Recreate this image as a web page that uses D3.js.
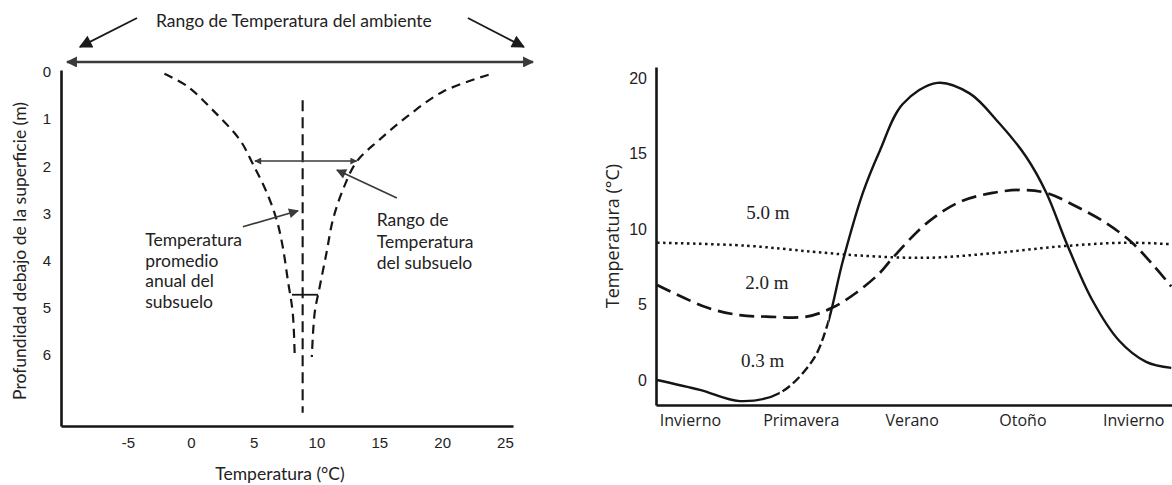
<!DOCTYPE html>
<html>
<head>
<meta charset="utf-8">
<script src="https://cdn.jsdelivr.net/npm/d3@7"></script>
<style>
  body { margin: 0; background: #fff; }
  svg { display: block; }
</style>
</head>
<body>
<svg id="chart" width="1172" height="485"></svg>
<script>
// ---------- Left panel: ground temperature envelope versus depth ----------
const depthTicks = [0, 1, 2, 3, 4, 5, 6];
const tempTicksLeft = [-5, 0, 5, 10, 15, 20, 25];
// [temperature °C, depth m]
const coldEnvelope = [[-2.1, 0.04], [-0.3, 0.3], [1.75, 0.81], [3.9, 1.44], [4.9, 1.93], [6.05, 2.56],
                      [6.84, 3.14], [7.32, 3.71], [7.72, 4.41], [8.11, 5.1], [8.27, 6.04]];
const warmEnvelope = [[23.7, 0.06], [20.05, 0.42], [17.2, 0.95], [15.0, 1.44], [13.2, 1.9], [12.1, 2.5],
                      [11.3, 3.14], [10.8, 3.83], [10.26, 4.55], [9.86, 5.1], [9.63, 6.04]];
const meanGroundTemp = 8.9;
const meanLineDepths = [0.6, 7.22];
const subsoilRangeDepth = 1.89;
const subsoilRange = [5.1, 13.2];
const deepRangeDepth = 4.72;
const deepRange = [8.05, 10.12];
const ambientRange = [-9.85, 27.23];
const ambientDepth = -0.21;

// ---------- Right panel: yearly temperature at three depths ----------
const seasons = ["Invierno", "Primavera", "Verano", "Otoño", "Invierno"];
const seasonMonths = [1, 4, 7, 10, 13];
const tempTicksRight = [0, 5, 10, 15, 20];
// [month, temperature °C]
const depth03 = [[0.11, 0.0], [1.27, -0.66], [2.35, -1.4], [3.43, -0.86], [4.32, 1.3], [4.7, 3.5],
                 [5.14, 7.9], [5.68, 12.4], [6.14, 15.2], [6.76, 18.3], [7.7, 19.7], [8.57, 19.0],
                 [9.38, 17.0], [10.1, 14.8], [10.65, 12.4], [11.19, 9.1], [11.89, 5.3], [12.62, 2.6],
                 [13.35, 1.2], [14.03, 0.8]];
const depth20 = [[0.11, 6.3], [1.46, 4.8], [2.35, 4.3], [3.08, 4.2], [4.16, 4.2], [4.86, 4.8],
                 [5.51, 5.8], [6.14, 7.1], [6.49, 8.1], [7.41, 10.4], [8.3, 11.8], [9.19, 12.4],
                 [10.0, 12.6], [10.65, 12.4], [11.46, 11.5], [12.27, 10.4], [12.97, 9.1],
                 [13.51, 7.7], [14.03, 6.2]];
const depth50 = [[0.11, 9.1], [2.54, 8.9], [4.32, 8.5], [5.59, 8.25], [7.41, 8.1], [9.19, 8.4],
                 [11.0, 8.85], [12.81, 9.1], [14.03, 9.0]];
const seriesLabels = [
  { text: "5.0 m", month: 3.11, temp: 11.1 },
  { text: "2.0 m", month: 3.08, temp: 6.5 },
  { text: "0.3 m", month: 2.97, temp: 1.3 }
];
const dashedStretch03 = [3.43, 4.75];

const svg = d3.select("#chart");
const ink = "#151515";
const arrowInk = "#3a3a3a";

// arrowheads
const defs = svg.append("defs");
function marker(id, w, h, color) {
  defs.append("marker")
    .attr("id", id)
    .attr("viewBox", "0 0 10 10")
    .attr("refX", 9).attr("refY", 5)
    .attr("markerUnits", "userSpaceOnUse")
    .attr("markerWidth", w).attr("markerHeight", h)
    .attr("orient", "auto-start-reverse")
    .append("path").attr("d", "M0,0L10,5L0,10Z").attr("fill", color);
}
marker("headBig", 14, 11, arrowInk);
marker("headDiag", 19, 13, "#1a1a1a");
marker("headSmall", 9, 7, arrowInk);
marker("headMid", 13, 10, arrowInk);

// ===== Left panel =====
const xL = d3.scaleLinear().domain([-10.33, 25.64]).range([61, 513]);
const yL = d3.scaleLinear().domain([-0.04, 7.5]).range([70, 426]);
const left = svg.append("g");

const axisLeftL = left.append("g")
  .attr("transform", `translate(${xL.range()[0]},0)`)
  .call(d3.axisLeft(yL).tickValues(depthTicks).tickSize(0).tickSizeOuter(0).tickPadding(10));
const axisBottomL = left.append("g")
  .attr("transform", `translate(0,${yL.range()[1]})`)
  .call(d3.axisBottom(xL).tickValues(tempTicksLeft).tickFormat(d => String(d))
    .tickSize(0).tickSizeOuter(0).tickPadding(11));
[axisLeftL, axisBottomL].forEach(a => {
  a.select(".domain").attr("stroke", ink).attr("stroke-width", 2.6);
  a.selectAll("text").attr("font-family", "'Liberation Sans', Arial, sans-serif")
    .attr("font-size", 15).attr("fill", "#222");
});

const lineL = d3.line().x(d => xL(d[0])).y(d => yL(d[1])).curve(d3.curveCatmullRom.alpha(0.5));
[coldEnvelope, warmEnvelope].forEach(env => {
  left.append("path").attr("d", lineL(env)).attr("fill", "none")
    .attr("stroke", ink).attr("stroke-width", 2.2).attr("stroke-dasharray", "9,6");
});
left.append("line")
  .attr("x1", xL(meanGroundTemp)).attr("x2", xL(meanGroundTemp))
  .attr("y1", yL(meanLineDepths[0])).attr("y2", yL(meanLineDepths[1]))
  .attr("stroke", ink).attr("stroke-width", 2.1).attr("stroke-dasharray", "11,6");

// subsoil range arrow and deep bracket
left.append("line")
  .attr("x1", xL(subsoilRange[0])).attr("x2", xL(subsoilRange[1]))
  .attr("y1", yL(subsoilRangeDepth)).attr("y2", yL(subsoilRangeDepth))
  .attr("stroke", arrowInk).attr("stroke-width", 1.5)
  .attr("marker-start", "url(#headSmall)").attr("marker-end", "url(#headSmall)");
left.append("line")
  .attr("x1", xL(deepRange[0])).attr("x2", xL(deepRange[1]))
  .attr("y1", yL(deepRangeDepth)).attr("y2", yL(deepRangeDepth))
  .attr("stroke", ink).attr("stroke-width", 1.8);

// ambient range
left.append("line")
  .attr("x1", xL(ambientRange[0])).attr("x2", xL(ambientRange[1]))
  .attr("y1", yL(ambientDepth)).attr("y2", yL(ambientDepth))
  .attr("stroke", arrowInk).attr("stroke-width", 2.6)
  .attr("marker-start", "url(#headBig)").attr("marker-end", "url(#headBig)");
const diagArrows = [[[-4.28, -1.14], [-8.82, -0.53]], [[22.05, -1.14], [26.5, -0.53]]];
diagArrows.forEach(([a, b]) => {
  left.append("line")
    .attr("x1", xL(a[0])).attr("y1", yL(a[1])).attr("x2", xL(b[0])).attr("y2", yL(b[1]))
    .attr("stroke", "#1a1a1a").attr("stroke-width", 1.8).attr("marker-end", "url(#headDiag)");
});

// pointer arrows for the annotations
const pointerArrows = [[[4.15, 3.28], [8.53, 2.94]], [[16.4, 2.67], [11.63, 2.08]]];
pointerArrows.forEach(([a, b]) => {
  left.append("line")
    .attr("x1", xL(a[0])).attr("y1", yL(a[1])).attr("x2", xL(b[0])).attr("y2", yL(b[1]))
    .attr("stroke", arrowInk).attr("stroke-width", 1.7).attr("marker-end", "url(#headMid)");
});

const sans = "Lato, 'Open Sans', sans-serif";
const textSize = 17.5;
left.append("text").attr("x", xL(8.2)).attr("y", 21).attr("dy", "0.35em")
  .attr("text-anchor", "middle").attr("font-family", sans).attr("font-size", textSize).attr("fill", "#222")
  .text("Rango de Temperatura del ambiente");

function block(lines, x, y0, step) {
  const t = left.append("text").attr("font-family", sans).attr("font-size", textSize).attr("fill", "#222");
  lines.forEach((s, i) => t.append("tspan").attr("x", x).attr("y", y0 + i * step).attr("dy", "0.35em").text(s));
}
block(["Temperatura", "promedio", "anual del", "subsuelo"], xL(-3.63), 240, 20.5);
block(["Rango de", "Temperatura", "del subsuelo"], xL(14.8), 220, 21.5);

left.append("text").attr("transform", `translate(20,251) rotate(-90)`).attr("dy", "0.35em")
  .attr("text-anchor", "middle").attr("font-family", sans).attr("font-size", textSize).attr("fill", "#222")
  .text("Profundidad debajo de la superficie (m)");
left.append("text").attr("x", 280).attr("y", 474).attr("dy", "0.35em")
  .attr("text-anchor", "middle").attr("font-family", sans).attr("font-size", textSize).attr("fill", "#222")
  .text("Temperatura (°C)");

// ===== Right panel =====
const xR = d3.scaleLinear().domain([0.08, 14.05]).range([656, 1172]);
const yR = d3.scaleLinear().domain([-1.66, 20.75]).range([405, 67]);
const right = svg.append("g");

const axisLeftR = right.append("g")
  .attr("transform", `translate(${xR.range()[0]},0)`)
  .call(d3.axisLeft(yR).tickValues(tempTicksRight).tickSize(0).tickSizeOuter(0).tickPadding(9));
axisLeftR.selectAll("text").attr("font-family", "'Liberation Sans', Arial, sans-serif").attr("font-size", 16);
const axisBottomR = right.append("g")
  .attr("transform", `translate(0,${yR.range()[0]})`)
  .call(d3.axisBottom(xR).tickValues(seasonMonths).tickFormat((d, i) => seasons[i])
    .tickSize(0).tickSizeOuter(0).tickPadding(10));
axisBottomR.selectAll("text").attr("font-family", "'Open Sans', sans-serif").attr("font-size", 16);
[axisLeftR, axisBottomR].forEach(a => {
  a.select(".domain").attr("stroke", ink).attr("stroke-width", 2.6);
  a.selectAll("text").attr("fill", "#222");
});

right.append("text").attr("transform", `translate(613,236) rotate(-90)`).attr("dy", "0.35em")
  .attr("text-anchor", "middle").attr("font-family", "'Open Sans', sans-serif").attr("font-size", 18)
  .attr("fill", "#222").text("Temperatura (°C)");

const lineR = d3.line().x(d => xR(d[0])).y(d => yR(d[1])).curve(d3.curveCatmullRom.alpha(0.5));

// clip regions: 0.3 m curve is drawn dashed over a short rising stretch
const cx0 = xR(dashedStretch03[0]), cx1 = xR(dashedStretch03[1]);
const solidClip = defs.append("clipPath").attr("id", "solidClip");
solidClip.append("rect").attr("x", 0).attr("y", 0).attr("width", cx0).attr("height", 485);
solidClip.append("rect").attr("x", cx1).attr("y", 0).attr("width", 1172 - cx1).attr("height", 485);
defs.append("clipPath").attr("id", "dashClip")
  .append("rect").attr("x", cx0).attr("y", 0).attr("width", cx1 - cx0).attr("height", 485);

right.append("path").attr("d", lineR(depth50)).attr("fill", "none")
  .attr("stroke", ink).attr("stroke-width", 2.5).attr("stroke-dasharray", "2.5,3.5");
right.append("path").attr("d", lineR(depth20)).attr("fill", "none")
  .attr("stroke", ink).attr("stroke-width", 2.7).attr("stroke-dasharray", "15,7");
right.append("path").attr("d", lineR(depth03)).attr("fill", "none").attr("clip-path", "url(#solidClip)")
  .attr("stroke", ink).attr("stroke-width", 2.4);
right.append("path").attr("d", lineR(depth03)).attr("fill", "none").attr("clip-path", "url(#dashClip)")
  .attr("stroke", ink).attr("stroke-width", 2.4).attr("stroke-dasharray", "9,4");

right.selectAll("text.serie").data(seriesLabels).enter().append("text")
  .attr("class", "serie")
  .attr("x", d => xR(d.month)).attr("y", d => yR(d.temp)).attr("dy", "0.35em")
  .attr("text-anchor", "middle").attr("font-family", "'Liberation Serif', 'Times New Roman', serif")
  .attr("font-size", 19).attr("fill", "#222").text(d => d.text);
</script>
</body>
</html>
